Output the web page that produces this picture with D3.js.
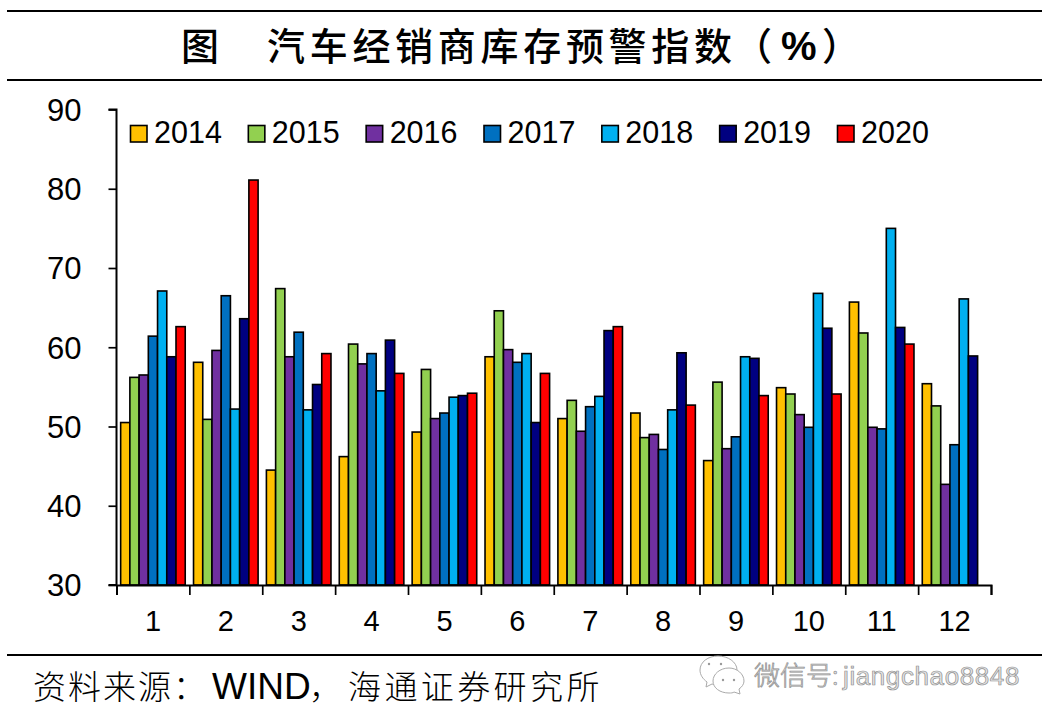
<!DOCTYPE html>
<html><head><meta charset="utf-8">
<script src="https://cdn.jsdelivr.net/npm/d3@7"></script>
<style>
html,body{margin:0;padding:0;background:#fff}
svg{display:block}
text{fill:#000}
.lat{font-family:"Liberation Sans",Arial,sans-serif}
.cjk{font-family:"Noto Sans CJK SC",sans-serif}
.wm{fill:#e4e4e4;stroke:#8f8f8f;stroke-width:.7px}
</style></head><body>
<svg id="c" width="1053" height="725"></svg>
<script>
const months = ["1","2","3","4","5","6","7","8","9","10","11","12"];
const years = ["2014","2015","2016","2017","2018","2019","2020"];
const colors = ["#FFC000","#92D050","#7030A0","#0070C0","#00B0F0","#000080","#FF0000"];
const v2014 = [50.5,58.1,44.5,46.2,49.3,58.8,51.0,51.7,45.7,54.9,65.7,55.4];
const v2015 = [56.2,50.9,67.4,60.4,57.2,64.6,53.3,48.6,55.6,54.1,61.8,52.6];
const v2016 = [56.5,59.6,58.8,57.9,51.0,59.7,49.4,49.0,47.2,51.5,49.9,42.7];
const v2017 = [61.4,66.5,61.9,59.2,51.7,58.1,52.5,47.1,48.7,49.9,49.7,47.7];
const v2018 = [67.1,52.2,52.1,54.5,53.7,59.2,53.8,52.1,58.8,66.8,75.0,66.1];
const v2019 = [58.8,63.6,55.3,60.9,53.9,50.5,62.1,59.3,58.6,62.4,62.5,58.9];
const v2020 = [62.6,81.1,59.2,56.7,54.2,56.7,62.6,52.7,53.9,54.1,60.4,null];
const series = [v2014,v2015,v2016,v2017,v2018,v2019,v2020];
const yTicks = [30,40,50,60,70,80,90];

const svg = d3.select("#c");
const L=116.5, R=991, T=109.5, B=585;
const y = d3.scaleLinear().domain([30,90]).range([B,T]);
const xEdge = d3.scaleLinear().domain([0,12]).range([L,R]);
const x0 = d3.scaleBand().domain(months).range([L,R]);
const x1 = d3.scaleBand().domain(years).range([0,x0.bandwidth()]).paddingOuter(0.45).paddingInner(0);

// rules
[11,80,655].forEach(yy=>svg.append("line").attr("x1",7).attr("x2",1042).attr("y1",yy).attr("y2",yy).attr("stroke","#000").attr("stroke-width",2));

// title
const ts = 38, ty = 60;
svg.append("text").attr("class","cjk").attr("x",181).attr("y",ty).attr("font-size",ts).attr("font-weight",500).text("图");
svg.append("text").attr("class","cjk").attr("x",267).attr("y",ty).attr("font-size",ts).attr("font-weight",500).attr("letter-spacing",4.7).text("汽车经销商库存预警指数");
svg.append("text").attr("class","cjk").attr("x",734).attr("y",ty).attr("font-size",ts).attr("font-weight",500).text("（");
svg.append("text").attr("class","lat").attr("x",781).attr("y",ty).attr("font-size",40).attr("font-weight",700).text("%");
svg.append("text").attr("class","cjk").attr("x",822).attr("y",ty).attr("font-size",ts).attr("font-weight",500).text("）");

// bars
years.forEach((yr,i)=>{
  svg.append("g").selectAll("rect").data(series[i].map((v,m)=>({v,m})).filter(d=>d.v!=null)).join("rect")
    .attr("x",d=>x0(months[d.m])+x1(yr))
    .attr("y",d=>y(d.v))
    .attr("width",x1.bandwidth())
    .attr("height",d=>B-y(d.v))
    .attr("fill",colors[i])
    .attr("stroke","#000").attr("stroke-width",1.6);
});

// axes
const ay = svg.append("g").attr("transform",`translate(${L},0)`)
  .call(d3.axisLeft(y).tickValues(yTicks).tickSize(8).tickPadding(27));
ay.selectAll("text").attr("class","lat").attr("font-size",31).attr("dy","0.35em");
const ax = svg.append("g").attr("transform",`translate(0,${B})`)
  .call(d3.axisBottom(xEdge).tickValues(d3.range(13)).tickSize(10).tickFormat(""));
const al = svg.append("g").attr("transform",`translate(0,${B})`)
  .call(d3.axisBottom(x0).tickSize(0).tickPadding(25));
al.select(".domain").remove();
al.selectAll("text").attr("class","lat").attr("font-size",29);
svg.selectAll(".domain").attr("stroke","#000").attr("stroke-width",2);
svg.selectAll(".tick line").attr("stroke","#000").attr("stroke-width",1.7);
ay.select(".domain").attr("d",`M${-8},${T}H0V${B}H-8`);

// legend
const legX = d3.scalePoint().domain(years).range([130,837]);
years.forEach((yr,i)=>{
  svg.append("rect").attr("x",legX(yr)+.5).attr("y",125.5).attr("width",16.5).attr("height",16.5)
    .attr("fill",colors[i]).attr("stroke","#000").attr("stroke-width",1.6);
  svg.append("text").attr("class","lat").attr("x",legX(yr)+24).attr("y",143).attr("font-size",30.5).text(yr);
});

// source
svg.append("text").attr("class","cjk").attr("x",33).attr("y",699).attr("font-size",33).attr("font-weight",300).attr("letter-spacing",2).text("资料来源：");
svg.append("text").attr("class","lat").attr("x",212).attr("y",699).attr("font-size",37).text("WIND");
svg.append("text").attr("class","cjk").attr("x",309).attr("y",699).attr("font-size",33).attr("font-weight",300).text("，");
svg.append("text").attr("class","cjk").attr("x",348).attr("y",699).attr("font-size",33).attr("font-weight",300).attr("letter-spacing",3.4).text("海通证券研究所");

// watermark
const wm = svg.append("g").attr("fill","#fff").attr("stroke","#aaa").attr("stroke-width",1);
wm.append("path").attr("d","M718,656c-10,0-18,6-18,14c0,5,3,9,7,12l-1,5l6-3c2,.5,4,1,6,1c11,0,19-7,19-15c0-8-9-14-19-14z");
wm.append("path").attr("d","M729,668c-9,0-16,6-16,13c0,7,7,12,16,12c2,0,4,0,5-1l6,2l-1-5c3-2,5-5,5-8c0-7-7-13-15-13z");
[[709,664],[721,664],[723,680],[734,680]].forEach(([cx,cy])=>wm.append("circle").attr("cx",cx).attr("cy",cy).attr("r",1.2).attr("fill","#999").attr("stroke","none"));
svg.append("text").attr("class","cjk wm").attr("x",754).attr("y",685).attr("font-size",26).attr("font-weight",300).text("微信号:");
svg.append("text").attr("class","lat wm").attr("x",843).attr("y",685).attr("font-size",26).attr("letter-spacing",.6).text("jiangchao8848");
</script>
</body></html>
